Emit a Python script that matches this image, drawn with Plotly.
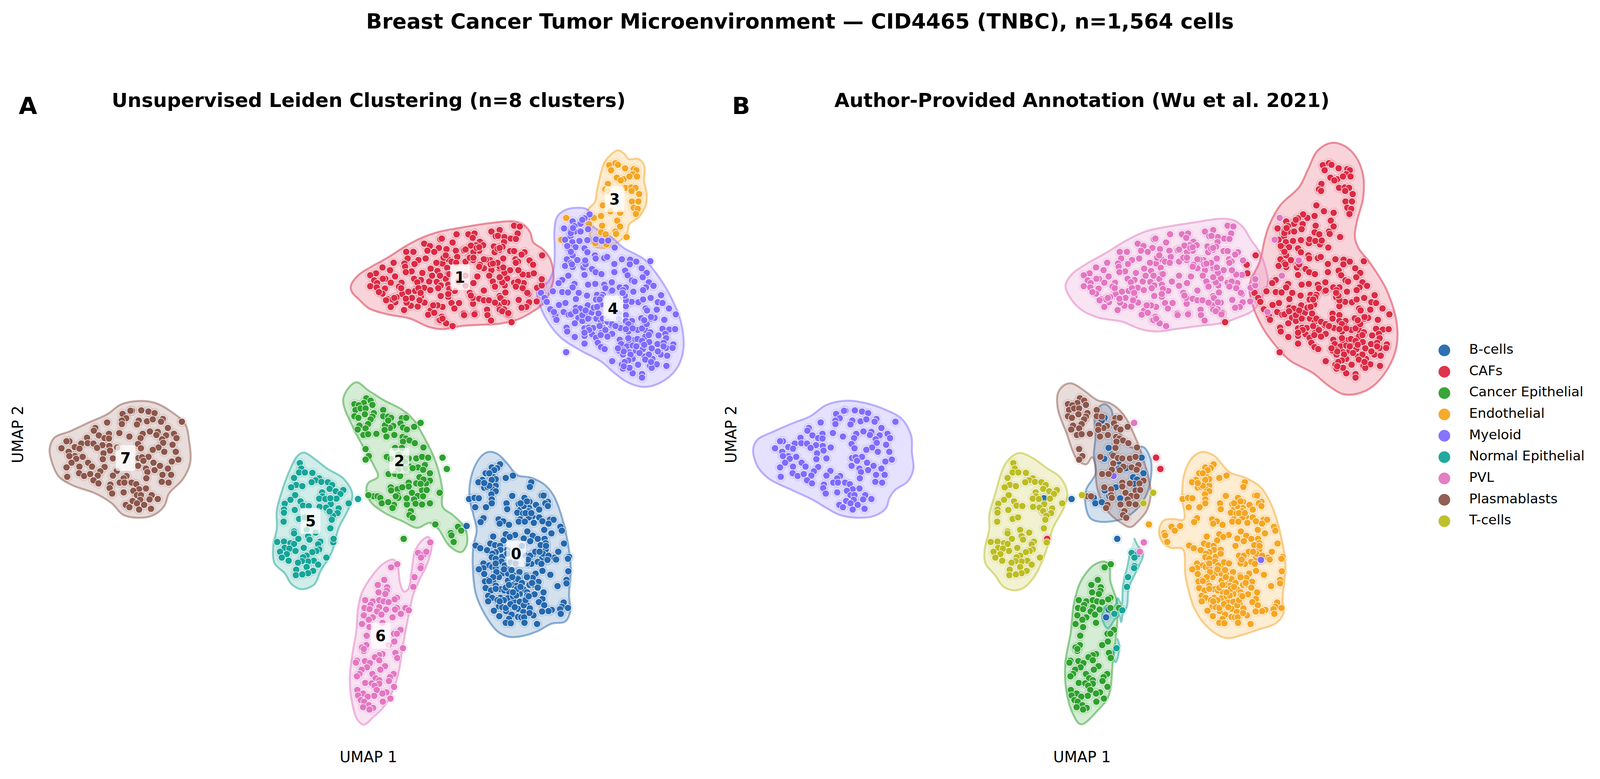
import numpy as np
import plotly.graph_objects as go

FONT = "DejaVu Sans"

# category colours
leiden_colors = {"0": "#2468AE", "1": "#DC2A44", "2": "#2EA12E", "3": "#F5A623",
                 "4": "#7F6BFF", "5": "#17A598", "6": "#E377C2", "7": "#8C564B"}
annotation_names = ["B-cells", "CAFs", "Cancer Epithelial", "Endothelial", "Myeloid",
                    "Normal Epithelial", "PVL", "Plasmablasts", "T-cells"]
annotation_colors = ["#2468AE", "#DC2A44", "#2EA12E", "#F5A623", "#7F6BFF",
                     "#17A598", "#E377C2", "#8C564B", "#BCBD22"]

# UMAP coordinates, one list per (leiden cluster, annotation)
c0_endothelial = [
    (13.91,8.11),(13.68,8.03),(13.83,8.01),(13.75,7.96),(13.51,7.88),(14.27,7.82),(14.07,7.76),(14.78,7.65),(14.74,7.53),
    (13.42,7.71),(13.31,7.65),(13.66,7.67),(13.73,7.78),(13.79,7.68),(13.79,7.56),(13.47,7.51),(13.56,7.53),(13.72,7.46),
    (13.79,7.42),(13.67,7.34),(15.14,7.32),(15.07,7.31),(14.25,7.30),(14.59,7.25),(13.05,7.22),(13.20,7.25),(13.32,7.24),
    (13.68,7.21),(13.68,7.11),(14.73,7.15),(15.24,7.15),(14.09,7.11),(14.43,7.09),(14.51,7.05),(14.91,7.07),(15.17,7.11),
    (15.24,7.04),(13.22,7.01),(13.52,7.01),(14.11,6.96),(14.72,6.99),(15.0,6.95),(14.47,6.94),(14.39,6.87),(14.55,6.85),
    (14.69,6.83),(14.81,6.77),(15.0,6.75),(13.45,6.73),(13.37,6.63),(13.87,6.70),(14.0,6.65),(13.90,6.59),(14.16,6.56),
    (14.47,6.70),(14.43,6.64),(14.71,6.75),(14.60,6.64),(14.85,6.61),(15.09,6.65),(15.30,6.69),(15.40,6.69),(15.26,6.59),
    (12.98,6.53),(15.59,6.51),(15.63,6.41),(15.14,6.43),(14.67,6.39),(15.34,6.34),(14.07,6.32),(14.33,6.30),(14.18,6.25),
    (13.72,6.26),(14.57,6.21),(14.82,6.28),(14.96,6.20),(15.15,6.20),(14.01,6.16),(14.75,6.14),(15.18,6.09),(13.64,6.08),
    (13.23,6.03),(15.69,6.08),(13.36,5.96),(13.77,6.04),(13.91,6.02),(15.04,6.04),(13.55,5.91),(13.92,5.92),(13.79,5.86),
    (13.70,5.82),(15.18,5.92),(15.53,5.87),(14.85,5.82),(14.11,5.92),(13.68,5.73),(13.97,5.74),(15.83,5.74),(15.80,5.69),
    (15.09,5.72),(15.42,5.72),(15.47,5.67),(15.24,5.66),(13.79,5.69),(14.66,5.72),(14.73,5.70),(14.96,5.61),(15.06,5.56),
    (13.45,5.57),(13.95,5.62),(14.78,5.56),(13.61,5.52),(13.45,5.45),(13.32,5.42),(13.69,5.48),(13.79,5.45),(14.11,5.47),
    (15.81,5.37),(15.09,5.38),(14.45,5.35),(13.47,5.30),(13.98,5.32),(14.13,5.31),(14.27,5.28),(14.65,5.26),(14.90,5.31),
    (15.31,5.28),(13.79,5.30),(13.88,5.22),(13.58,5.15),(13.49,5.11),(13.72,5.11),(14.13,5.13),(14.40,5.20),(14.82,5.20),
    (14.98,5.10),(15.76,5.15),(15.76,5.06),(14.24,5.02),(14.39,5.03),(14.73,5.02),(14.84,5.03),(15.51,4.99),(13.51,4.94),
    (13.79,5.0),(13.93,4.91),(14.03,4.88),(13.66,4.88),(14.17,4.83),(14.57,4.90),(14.66,4.83),(14.87,4.78),(14.46,4.79),
    (14.67,4.75),(13.58,4.74),(13.69,4.69),(13.92,4.69),(14.13,4.68),(13.58,4.60),(14.29,4.60),(14.46,4.59),(15.09,4.66),
    (14.99,4.58),(15.68,4.57),(13.90,4.53),(14.18,4.50),(14.65,4.51),(15.14,4.50),(15.63,4.46),(15.80,4.43),(14.74,4.42),
    (13.88,4.47),(14.41,4.41),(13.74,4.36),(15.35,4.38),(15.26,4.35),(15.08,4.34),(14.08,4.35),(15.58,4.40),(14.56,4.33),
    (15.60,4.28),(14.84,4.24),(14.23,4.26),(14.41,4.20),(13.89,4.22),(14.50,4.19),(14.58,4.19),(14.16,4.15),(14.07,4.05),
    (14.21,4.04),(14.59,4.05),(14.94,4.02),
    (14.11,5.82),(14.20,5.60),(14.62,5.77),(14.66,5.57),(14.52,6.02),(14.34,5.57),(14.04,5.52),(14.34,5.17),(14.41,5.17),
    (14.25,5.22),(14.52,5.07),(14.07,4.95),(14.39,4.92),(14.27,4.73),(14.36,4.75),(13.79,4.92),(13.84,4.63),(14.02,4.63),
    (13.97,4.45),(14.07,4.43),(14.20,4.53),(14.32,4.45),(14.57,4.50),(14.62,4.63),(14.71,4.73),(14.73,4.30),(14.96,4.95),
    (15.12,4.83),(15.17,5.77),(15.10,5.82),(15.26,5.77),(14.75,5.77),(14.69,5.67),(14.89,5.87),(14.71,6.91),(14.62,6.86),
    (14.78,6.86),(14.57,7.04),(14.66,7.16),(14.48,7.11),(15.12,7.31),(13.79,7.73),(13.61,7.88),(13.68,7.71),(13.61,7.56),
    (13.47,7.63),(13.79,5.57),(13.81,5.35),(13.72,5.22),(13.61,5.12),(14.02,5.42),(14.23,5.40),(14.16,5.02),(14.48,4.97),
    (14.27,4.83),(13.90,4.60),(14.66,5.22),(14.80,5.07),(15.19,6.02),(15.01,5.87),
]
c0_myeloid = [(15.23,5.66)]

c1_pvl = [
    (14.30,14.22),(14.46,14.20),(14.40,14.02),(13.67,14.07),(13.90,14.11),(14.03,13.93),(13.79,13.95),(13.85,13.96),
    (14.21,13.89),(14.35,13.88),(14.02,13.80),(13.98,13.68),(13.74,13.69),(13.89,13.60),(13.76,13.54),(14.19,13.57),
    (14.30,13.57),(14.59,13.54),(14.51,13.48),(14.73,13.33),(14.34,13.36),(14.41,13.30),(14.00,13.38),(13.63,13.34),
    (13.52,13.35),(12.70,14.00),(13.03,14.00),(13.20,14.02),(13.15,13.91),(13.35,13.81),(13.44,13.72),(13.25,13.72),
    (13.10,13.71),(13.33,13.58),(13.17,13.54),(12.90,13.57),(12.68,13.58),(12.59,13.79),(12.42,13.62),(12.21,13.65),
    (12.25,13.87),(12.29,13.89),(11.80,13.76),(11.96,13.70),(11.89,13.58),(12.08,13.55),(11.50,13.55),(11.30,13.55),
    (11.34,13.38),(11.64,13.34),(11.84,13.38),(10.95,13.27),(11.25,13.25),(11.27,13.17),(11.53,13.24),(10.64,13.15),
    (10.46,13.00),(10.85,13.08),(10.99,12.92),(10.30,12.95),(10.72,12.86),(10.65,12.86),(10.41,12.82),(10.87,12.76),
    (11.17,12.76),(10.49,12.75),(10.30,12.67),(10.48,12.64),(10.71,12.61),(10.64,12.48),(10.54,12.52),(11.10,12.66),
    (11.19,12.47),(11.36,12.53),(11.46,12.37),(11.00,12.26),(10.78,12.34),(10.92,12.33),(10.87,12.14),(11.24,12.06),
    (11.43,12.17),(11.62,12.15),(11.31,12.25),(11.81,12.25),(11.71,12.41),(11.55,12.55),(11.66,12.63),(11.80,12.63),
    (11.97,12.57),(11.71,12.83),(11.94,12.79),(11.52,12.86),(11.75,13.01),(11.45,13.05),(11.29,13.03),(11.98,13.12),
    (12.17,13.06),(12.03,12.95),(12.15,12.78),(12.26,12.69),(12.19,12.62),(12.26,12.42),(12.47,12.40),(12.56,12.24),
    (12.77,12.24),(12.64,12.10),(12.31,12.14),(12.07,12.17),(12.17,12.18),(11.98,12.05),(11.91,11.94),(12.08,11.99),
    (12.29,11.89),(12.21,11.80),(12.41,11.72),(12.59,11.65),(12.90,11.97),(13.21,11.98),(13.55,12.07),(13.56,11.93),
    (13.66,11.79),(14.02,12.08),(13.88,12.18),(14.11,12.25),(14.43,12.32),(14.72,12.26),(14.93,12.28),(14.64,12.14),
    (14.51,12.12),(13.16,12.22),(13.15,12.37),(13.33,12.35),(13.46,12.31),(13.60,12.31),(13.77,12.25),(13.90,12.42),
    (14.06,12.51),(13.46,12.56),(13.78,12.66),(14.04,12.69),(13.71,12.79),(13.95,12.89),(14.11,12.87),(14.57,12.75),
    (14.39,12.78),(14.30,12.76),(14.70,12.47),(14.94,12.63),(15.07,12.69),(15.07,12.85),(14.70,12.96),(14.54,12.97),
    (14.42,13.08),(14.19,13.08),(14.03,13.01),(13.89,13.13),(13.67,13.08),(13.46,13.13),(13.61,12.94),(13.28,12.92),
    (13.17,12.75),(13.35,13.22),(13.16,13.34),(12.95,13.30),(12.72,13.42),(12.47,13.36),(12.31,13.25),(12.14,13.27),
    (12.44,13.14),(12.47,12.99),(12.40,12.86),(12.47,12.71),(12.65,12.55),
    (12.34,13.40),(12.40,13.46),(12.56,13.30),(12.69,13.27),(12.91,13.59),(13.07,13.40),(13.46,13.36),(13.65,13.23),
    (13.90,13.17),(13.84,13.27),(14.35,13.27),(14.00,13.15),(12.50,12.98),(12.95,12.94),(12.75,12.79),(12.95,12.68),
    (12.50,12.60),(12.24,12.94),(12.02,12.94),(11.61,12.77),(11.64,12.62),(11.70,12.50),(11.16,12.62),(11.03,12.39),
    (10.97,12.37),(10.74,12.31),(11.29,12.35),(11.67,12.31),(12.47,12.47),(13.07,12.50),(13.10,12.43),(13.92,12.37),
    (14.03,12.26),(13.90,12.07),(13.97,12.03),(14.13,11.95),(12.91,11.93),(13.20,11.95),(12.24,11.80),(12.31,11.84),
    (12.05,12.18),(14.41,12.79),(14.35,12.66),(14.54,12.62),(14.67,12.50),(13.77,12.66),(13.97,12.77),(13.90,12.90),
    (13.33,13.17),(13.71,13.25),(13.17,13.40),(13.26,13.65),(12.95,13.61),(13.33,13.67),(13.84,13.63),(13.90,13.65),
]
c1_caf = [(15.08,13.46),(14.83,13.22),(14.23,11.75),(14.14,11.98),(14.85,13.00)]

c2_plasmablast = [
    (10.19,9.80),(10.31,9.74),(10.12,9.68),(10.36,9.63),(9.86,9.65),(9.98,9.62),(9.89,9.50),(10.03,9.54),(10.17,9.54),
    (10.40,9.42),(10.15,9.39),(9.86,9.34),(9.97,9.30),(10.36,9.33),(10.31,9.26),(10.0,9.10),(10.24,9.14),(9.95,9.00),
    (10.17,9.03),(10.11,8.86),(10.24,8.88),(10.47,8.89),(10.17,8.50),(10.26,8.32),(10.17,8.23),(10.66,9.50),(10.66,9.34),
    (10.80,9.33),(11.18,9.29),(11.30,9.30),(11.14,9.16),(11.21,9.05),(10.94,9.09),(10.85,9.04),(10.71,9.11),(10.70,8.99),
    (10.75,8.82),(10.97,8.86),(11.32,9.00),(11.52,9.07),(11.20,8.81),(11.29,8.77),(11.39,8.72),(11.21,8.69),(11.54,8.65),
    (11.18,8.53),(11.78,8.54),(10.76,8.30),(11.12,8.33),(11.25,8.27),(11.37,8.26),(11.58,8.26),(11.74,8.30),(11.12,8.13),
    (11.82,8.09),(11.40,8.05),(11.63,8.03),(11.77,7.97),(11.08,7.97),(11.30,7.96),(10.81,7.86),(10.99,7.86),(11.37,7.64),
    (11.58,7.62),(11.96,7.69),(11.85,7.62),(10.87,7.52),(11.37,7.54),(11.74,7.44),(11.87,7.45),(11.06,7.47),(11.06,7.32),
    (11.08,7.25),(11.46,7.38),(11.62,7.30),(11.77,7.29),(11.52,7.21),(11.56,7.10),(11.32,7.08),(11.74,7.08),(10.96,7.07),
    (10.92,6.99),(11.43,6.91),(11.39,6.81),(11.48,6.74),(10.40,7.29),(10.50,7.29),
]
c2_bcell = [
    (10.88,9.30),(10.80,9.23),(10.99,8.53),(11.09,8.36),(10.87,8.25),(11.27,8.18),(11.28,8.00),(11.48,8.01),(11.91,8.28),
    (11.96,7.88),(11.67,7.78),(11.78,7.72),(11.70,7.61),(11.19,7.52),(10.88,7.44),(11.31,7.24),(11.01,7.29),(10.58,7.25),
    (10.62,7.11),(10.80,7.14),(11.23,6.20),
]
c2_caf = [(12.31,8.28),(12.43,7.99)]
c2_tcell = [(10.25,7.32),(12.23,7.38),(11.96,7.11)]
c2_pvl = [(11.70,9.17)]
c2_endothelial = [(12.11,6.57),(12.74,6.51),(12.83,6.41),(12.54,6.35),(12.56,6.29),(12.62,6.12)]
c2_myeloid = [(11.13,7.81)]

c3_caf = [
    (16.95,15.77),(17.12,15.82),(17.19,15.78),(17.39,15.69),(17.00,15.64),(17.63,15.67),(17.70,15.64),(17.16,15.45),
    (17.35,15.41),(17.60,15.54),(17.51,15.48),(17.72,15.48),(17.27,15.38),(16.91,15.29),(17.40,15.19),(17.56,15.20),
    (17.68,15.19),(16.84,15.15),(16.90,15.11),(17.57,15.11),(17.78,15.03),(16.77,14.74),(17.58,14.84),(17.76,14.84),
    (16.98,14.59),(17.25,14.55),(17.63,14.68),(17.74,14.65),(17.69,14.52),(16.52,14.42),(16.72,14.47),(16.39,14.26),
    (16.75,14.22),(17.17,14.35),(17.25,14.20),(17.12,14.07),(17.14,14.01),(16.72,14.05),(16.85,14.00),(17.43,13.93),
    (16.56,13.77),(16.87,13.74),
]
c3_pvl = [(15.75,14.42),(15.61,13.86)]

c4_caf = [
    (16.40,14.51),(16.26,14.41),(15.93,14.33),(16.15,14.27),(15.98,14.21),(15.69,14.15),(16.36,14.13),(15.87,14.07),
    (15.99,14.07),(16.15,14.07),(15.87,13.95),(15.72,13.86),(15.92,13.80),(16.12,13.83),(16.34,13.85),(16.58,13.87),
    (16.74,13.83),(16.92,13.84),(17.10,13.66),(15.84,13.67),(16.01,13.67),(16.26,13.64),(15.85,13.59),(16.34,13.54),
    (15.93,13.46),(16.55,13.46),(16.57,13.38),(16.81,13.39),(16.89,13.42),(15.77,13.36),(16.06,13.34),(17.30,13.36),
    (17.53,13.35),(17.70,13.30),(18.09,13.31),(17.09,13.24),(17.52,13.23),(15.72,13.19),(15.93,13.16),(16.26,13.19),
    (16.23,13.15),(16.47,13.11),(16.57,13.03),(17.39,13.07),(17.85,13.13),(17.09,13.03),(16.73,12.98),(17.99,13.01),
    (16.26,12.96),(17.46,12.95),(17.88,12.90),(17.58,12.82),(15.64,12.83),(15.54,12.75),(15.98,12.73),(16.36,12.71),
    (16.56,12.73),(17.02,12.77),(16.81,12.71),(17.65,12.79),(18.05,12.77),(18.18,12.68),(15.93,12.64),(16.84,12.62),
    (17.24,12.64),(17.41,12.64),(17.97,12.64),(17.89,12.57),(15.05,12.50),(15.38,12.54),(15.64,12.52),(15.80,12.51),
    (17.00,12.54),(17.33,12.57),(17.62,12.53),(16.10,12.50),(16.33,12.43),(16.61,12.45),(16.77,12.45),(18.39,12.44),
    (17.32,12.39),(15.15,12.37),(18.10,12.37),(16.02,12.34),(15.21,12.27),(16.58,12.33),(17.57,12.27),(17.76,12.26),
    (17.89,12.33),(15.73,12.24),(15.55,12.19),(18.30,12.26),(18.43,12.24),(16.71,12.20),(17.41,12.16),(16.02,12.12),
    (16.35,12.18),(16.52,12.14),(18.61,12.10),(15.31,12.08),(16.14,12.10),(17.96,12.10),(18.0,12.05),(18.27,12.07),
    (15.68,12.01),(16.04,11.99),(16.28,11.97),(16.56,12.06),(16.45,11.99),(18.80,11.95),(15.82,11.94),(17.22,11.97),
    (17.41,11.93),(15.45,11.91),(16.09,11.86),(16.39,11.84),(16.59,11.84),(17.84,11.85),(18.11,11.84),(18.21,11.86),
    (18.48,11.81),(15.48,11.81),(16.20,11.78),(16.72,11.76),(17.58,11.78),(17.41,11.78),(17.95,11.70),(15.99,11.72),
    (17.00,11.67),(17.56,11.65),(15.76,11.61),(16.26,11.59),(16.38,11.61),(16.50,11.60),(16.80,11.59),(17.26,11.60),
    (18.43,11.58),(18.62,11.56),(18.78,11.57),(15.78,11.51),(17.48,11.51),(17.74,11.55),(17.95,11.55),(16.72,11.47),
    (16.85,11.48),(18.09,11.49),(16.26,11.40),(16.47,11.44),(17.03,11.45),(16.90,11.38),(18.51,11.45),(15.99,11.37),
    (18.32,11.41),(16.58,11.35),(17.24,11.30),(17.65,11.29),(17.49,11.29),(17.95,11.38),(18.53,11.34),(16.26,11.20),
    (16.63,11.22),(17.28,11.19),(17.80,11.24),(18.06,11.24),(18.29,11.19),(18.73,11.18),(17.44,11.13),(17.60,11.15),
    (16.72,11.11),(18.46,11.22),(16.82,11.06),(17.22,11.02),(17.33,11.04),(17.51,10.98),(17.88,11.06),(18.13,11.08),
    (18.53,11.09),(18.71,11.09),(17.33,10.92),(17.69,11.02),(17.93,10.87),(18.38,10.92),(18.56,10.89),(15.75,10.98),
    (17.60,10.81),(18.15,10.81),(17.03,10.75),(17.44,10.77),(17.30,10.66),(17.75,10.66),(18.08,10.63),(18.27,10.67),
    (18.54,10.63),(17.33,10.56),(17.53,10.59),(18.13,10.58),(17.60,10.44),(17.86,10.42),(17.86,10.33),
    (16.52,12.12),(16.61,12.14),(16.65,11.97),(16.77,11.84),(16.90,11.76),(17.03,11.70),(17.12,11.65),(17.22,11.84),
    (17.48,11.70),(17.60,11.59),(17.41,11.57),(17.86,11.59),(17.99,11.70),(17.92,11.80),(18.11,11.88),(16.68,11.65),
    (16.84,11.55),(16.71,11.42),(16.39,11.55),(16.26,11.48),(17.48,11.34),(17.73,11.32),(17.86,11.27),(18.05,11.42),
    (17.92,11.17),(17.70,11.13),(17.35,11.00),(17.19,11.08),(17.54,10.92),(17.79,10.96),(18.05,10.92),(18.30,11.00),
    (18.46,11.13),(17.95,10.79),(17.48,10.77),(17.38,10.73),(18.11,10.73),(17.51,10.58),(17.35,10.62),(15.88,11.95),
    (16.36,11.84),(16.20,11.93),(16.01,12.03),(16.29,12.05),(16.74,12.39),(16.68,12.33),(17.41,12.31),(17.38,12.43),
    (17.03,12.56),(17.32,12.50),(15.88,14.03),(15.94,14.16),(16.20,14.37),(15.78,13.70),(15.88,13.55),(16.26,13.27),
    (16.29,13.23),(15.88,13.27),(15.91,13.23),
]
c4_pvl = [(16.28,13.33),(15.81,12.94),(15.41,12.01)]

c5_tcell = [
    (8.34,8.14),(8.38,8.00),(8.32,7.90),(8.48,7.90),(8.69,7.89),(8.18,7.76),(8.88,7.75),(8.78,7.70),(8.67,7.65),(8.94,7.66),
    (9.12,7.65),(9.24,7.58),(8.24,7.58),(8.41,7.55),(8.10,7.52),(9.17,7.48),(9.55,7.45),(9.34,7.42),(9.47,7.35),(8.96,7.39),
    (8.21,7.32),(8.97,7.29),(9.36,7.23),(8.08,7.20),(8.88,7.23),(9.05,7.22),(9.70,7.11),(8.36,7.16),(7.92,7.10),(9.20,7.09),
    (8.43,7.05),(8.59,7.04),(8.89,7.02),(9.07,7.00),(7.90,6.95),(8.20,6.94),(9.42,6.98),(9.17,6.91),(7.90,6.87),(9.39,6.86),
    (9.26,6.79),(8.32,6.71),(9.23,6.69),(7.89,6.64),(8.47,6.75),(9.19,6.47),(8.18,6.39),(8.18,6.34),(8.53,6.43),(8.78,6.36),
    (8.57,6.27),(8.30,6.20),(8.61,6.18),(7.71,6.12),(7.90,6.13),(8.08,6.09),(8.18,6.07),(8.91,6.13),(9.27,6.11),(8.85,6.06),
    (8.45,5.97),(7.92,5.97),(8.05,5.95),(8.22,5.89),(7.79,5.87),(8.88,5.93),(8.80,5.89),(8.69,5.86),(7.98,5.81),(8.53,5.77),
    (8.43,5.73),(7.84,5.72),(9.08,5.72),(8.03,5.64),(8.73,5.64),(8.57,5.62),(8.40,5.63),(8.29,5.59),(8.85,5.54),(8.53,5.48),
    (8.24,5.41),(8.71,5.38),(8.57,5.32),(8.23,5.27),(8.41,5.29),
]
c5_bcell = [(9.96,7.22),(9.19,7.24)]
c5_caf = [(9.28,6.20)]
c5_plasmablast = [(9.17,6.90)]

c6_cancer = [
    (11.05,5.55),(10.88,5.47),(10.69,5.15),(10.51,5.02),(10.77,4.96),(10.53,4.83),(10.76,4.87),(10.72,4.79),(11.04,4.69),
    (10.98,4.65),(10.16,4.63),(10.37,4.60),(10.55,4.63),(10.67,4.60),(10.81,4.58),(10.31,4.51),(10.14,4.43),(10.28,4.40),
    (10.55,4.45),(10.74,4.39),(11.28,4.43),(10.49,4.34),(10.12,4.24),(10.61,4.26),(10.37,4.19),(10.07,4.02),(10.28,3.94),
    (10.64,4.05),(10.26,4.13),(11.14,3.87),(10.96,3.77),(11.04,3.77),(10.20,3.72),(10.81,3.48),(10.97,3.57),(10.19,3.48),
    (10.07,3.42),(10.12,3.33),(10.12,3.38),(11.0,3.28),(10.64,3.25),(10.55,3.22),(10.43,3.17),(11.05,3.15),(10.15,3.07),
    (10.55,3.09),(9.93,3.08),(9.90,3.03),(10.29,3.02),(10.21,2.91),(10.71,2.94),(10.06,2.85),(10.58,2.85),(10.95,2.74),
    (10.36,2.74),(10.00,2.74),(9.93,2.68),(10.85,2.66),(10.45,2.63),(10.55,2.58),(10.82,2.56),(10.16,2.51),(10.34,2.50),
    (10.55,2.49),(10.42,2.44),(10.96,2.41),(10.48,2.33),(9.94,2.33),(10.75,2.27),(10.64,2.24),(10.10,2.24),(9.96,2.19),
    (10.41,2.18),(10.23,2.16),(10.04,2.07),(10.86,2.11),(10.13,2.03),(10.65,2.03),(10.26,1.94),(10.10,1.89),(10.38,1.87),
    (10.28,1.83),(11.04,4.43),
]
c6_normal = [(11.63,5.84),(11.80,5.81),(11.71,5.72),(11.71,5.50),(11.70,5.45),(11.53,5.22),(11.50,4.97),(11.37,4.37),(11.15,4.28),(11.21,3.40)]
c6_pvl = [(11.97,6.11),(11.86,5.87)]
c6_bcell = [(10.99,4.39),(10.92,4.19)]

c7_myeloid = [
    (3.67,9.48),(3.63,9.48),(3.93,9.49),(4.13,9.46),(4.30,9.42),(3.41,9.40),(3.51,9.29),(3.39,9.23),(3.39,9.14),(2.98,9.18),
    (3.86,9.23),(3.81,9.13),(4.09,9.21),(4.25,9.26),(4.53,9.27),(4.48,9.20),(5.06,9.20),(2.65,9.04),(2.61,8.97),(4.67,9.04),
    (3.32,8.91),(3.60,8.82),(4.17,8.95),(4.39,8.94),(3.97,8.89),(3.91,8.78),(4.35,8.86),(4.62,8.85),(4.84,8.89),(4.91,8.78),
    (3.03,8.89),(2.75,8.85),(2.91,8.78),(3.03,8.77),(2.42,8.79),(1.93,8.70),(1.85,8.70),(2.26,8.64),(2.44,8.65),(2.60,8.64),
    (2.85,8.60),(3.04,8.58),(2.70,8.53),(4.51,8.75),(4.54,8.66),(4.80,8.61),(3.84,8.63),(4.41,8.54),(3.26,8.54),(1.71,8.52),
    (2.08,8.55),(2.21,8.51),(1.91,8.43),(3.92,8.52),(4.25,8.48),(4.57,8.43),(3.06,8.46),(4.89,8.43),(2.88,8.39),(2.08,8.32),
    (1.93,8.32),(2.30,8.30),(2.12,8.25),(3.14,8.26),(2.86,8.24),(3.85,8.27),(4.13,8.30),(3.95,8.29),(4.96,8.23),(4.78,8.18),
    (3.99,8.20),(1.99,8.15),(2.45,8.15),(4.27,8.15),(1.85,8.03),(2.21,8.05),(2.56,8.05),(2.91,8.04),(3.84,8.07),(4.45,8.07),
    (4.67,8.00),(4.06,8.00),(2.79,7.93),(2.20,7.88),(2.34,7.81),(2.51,7.86),(2.72,7.82),(1.87,7.79),(3.25,7.94),(4.30,7.96),
    (4.10,7.91),(4.52,7.84),(4.76,7.84),(3.14,7.82),(3.52,7.81),(3.44,7.75),(4.07,7.75),(2.60,7.70),(2.74,7.62),(3.33,7.64),
    (3.46,7.64),(3.66,7.64),(3.79,7.60),(4.50,7.66),(4.69,7.64),(3.07,7.59),(3.05,7.50),(4.06,7.49),(3.87,7.47),(3.71,7.43),
    (3.44,7.39),(3.12,7.36),(3.81,7.32),(3.92,7.32),(4.22,7.32),(4.39,7.22),(4.16,7.21),(3.90,7.20),(3.69,7.17),(3.50,7.07),
    (3.60,7.01),(3.81,7.11),(4.01,7.07),(3.87,6.95),(4.20,6.97),
]

# (leiden cluster, annotation, points)
point_groups = [
    ("0", "Endothelial", c0_endothelial), ("0", "Myeloid", c0_myeloid),
    ("1", "PVL", c1_pvl), ("1", "CAFs", c1_caf),
    ("2", "Plasmablasts", c2_plasmablast), ("2", "B-cells", c2_bcell), ("2", "CAFs", c2_caf),
    ("2", "T-cells", c2_tcell), ("2", "PVL", c2_pvl), ("2", "Endothelial", c2_endothelial), ("2", "Myeloid", c2_myeloid),
    ("3", "CAFs", c3_caf), ("3", "PVL", c3_pvl),
    ("4", "CAFs", c4_caf), ("4", "PVL", c4_pvl),
    ("5", "T-cells", c5_tcell), ("5", "B-cells", c5_bcell), ("5", "CAFs", c5_caf), ("5", "Plasmablasts", c5_plasmablast),
    ("6", "Cancer Epithelial", c6_cancer), ("6", "Normal Epithelial", c6_normal), ("6", "PVL", c6_pvl), ("6", "B-cells", c6_bcell),
    ("7", "Myeloid", c7_myeloid),
]

# cluster outlines
outline_c0 = [(13.65,8.43),(13.88,8.35),(14.13,8.11),(14.39,7.83),(14.75,7.77),(15.12,7.61),(15.40,7.31),(15.63,6.76),(15.81,6.02),(15.88,5.42),(15.83,4.78),(15.86,4.33),(15.72,4.08),(15.35,4.03),(14.94,3.83),(14.52,3.71),(14.16,3.69),(13.84,3.83),(13.51,4.23),(13.24,4.78),(13.15,5.52),(13.17,6.02),(13.26,6.42),(13.17,6.81),(13.06,7.26),(13.10,7.76),(13.29,8.20),(13.47,8.38)]
outline_c1 = [(9.76,12.68),(9.95,12.94),(10.33,13.17),(10.78,13.40),(11.29,13.70),(11.73,13.91),(12.24,14.07),(12.88,14.18),(13.58,14.28),(14.29,14.33),(14.60,14.22),(14.76,14.03),(14.83,13.80),(15.11,13.61),(15.31,13.36),(15.40,12.90),(15.31,12.56),(15.11,12.22),(14.80,12.01),(14.41,11.82),(13.90,11.71),(13.33,11.68),(12.82,11.65),(12.31,11.57),(11.92,11.63),(11.41,11.84),(10.78,11.95),(10.27,12.10),(10.01,12.31),(9.79,12.52)]
outline_c2 = [(9.90,10.21),(10.25,10.0),(10.68,9.75),(11.2,9.5),(11.55,9.2),(11.68,9.0),(12.09,8.25),(12.30,7.51),(12.32,7.01),(12.6,6.81),(12.94,6.47),(12.99,6.07),(12.83,5.86),(12.5,6.02),(12.18,6.47),(11.95,6.61),(11.61,6.48),(11.22,6.64),(10.71,6.86),(10.30,7.16),(10.19,7.47),(10.25,7.64),(10.51,7.79),(10.38,8.11),(9.87,8.96),(9.55,9.79)]
outline_c3 = [(17.19,16.15),(17.38,16.05),(17.48,15.93),(17.76,15.93),(17.92,15.76),(17.92,15.34),(17.99,15.04),(17.95,14.71),(17.76,14.43),(17.51,14.26),(17.44,14.03),(17.22,13.82),(16.84,13.65),(16.52,13.70),(16.42,13.91),(16.42,14.20),(16.36,14.62),(16.55,14.83),(16.61,15.13),(16.71,15.55),(16.84,15.88)]
outline_c4 = [(16.07,14.68),(16.36,14.62),(16.46,14.24),(17.03,13.91),(17.35,13.65),(17.92,13.36),(18.24,13.02),(18.62,12.47),(18.94,11.76),(19.01,11.04),(18.81,10.54),(18.37,10.20),(17.92,10.09),(17.48,10.20),(17.09,10.45),(16.71,10.75),(16.20,11.0),(15.62,11.34),(15.24,11.76),(14.99,12.26),(14.95,12.52),(15.27,12.81),(15.40,13.11),(15.43,13.65),(15.42,14.07),(15.50,14.45),(15.72,14.62)]
outline_c5 = [(8.46,8.41),(8.72,8.27),(9.10,8.0),(9.55,7.75),(9.80,7.36),(9.71,7.0),(9.42,6.47),(9.23,5.86),(8.91,5.36),(8.75,5.04),(8.40,4.91),(8.11,5.04),(7.92,5.32),(7.64,5.57),(7.60,6.0),(7.70,6.47),(7.70,6.93),(7.86,7.47),(8.08,8.0),(8.27,8.32)]
outline_c6 = [(11.91,6.25),(12.01,6.07),(11.91,5.62),(11.68,5.17),(11.50,4.78),(11.40,4.38),(11.22,3.53),(11.08,2.74),(10.94,2.34),(10.67,1.89),(10.39,1.64),(10.12,1.44),(9.93,1.59),(9.77,2.14),(9.73,2.64),(9.80,3.23),(9.91,3.83),(9.96,4.43),(10.07,4.83),(10.39,5.30),(10.67,5.57),(10.94,5.67),(11.06,5.52),(11.13,5.07),(11.24,4.85),(11.36,4.92),(11.45,5.37),(11.54,5.87),(11.72,6.14)]
outline_c7 = [(3.84,9.73),(4.32,9.68),(4.76,9.46),(5.15,9.14),(5.26,8.72),(5.29,8.14),(5.08,7.72),(4.70,7.36),(4.57,7.04),(4.25,6.80),(3.87,6.74),(3.42,6.82),(3.11,7.11),(2.66,7.36),(2.02,7.57),(1.64,7.79),(1.45,8.14),(1.38,8.50),(1.51,8.79),(1.96,8.96),(2.47,9.18),(2.98,9.39),(3.36,9.64)]

outline_bcell = [(10.88,9.65),(11.06,9.52),(11.14,9.23),(11.60,8.55),(11.96,8.55),(12.16,8.23),(12.18,7.88),(12.05,7.35),(11.75,6.94),(11.34,6.70),(10.73,6.64),(10.48,6.73),(10.35,7.05),(10.37,7.47),(10.63,7.88),(10.58,8.35),(10.63,8.87),(10.60,9.28),(10.73,9.58)]
outline_caf = [(17.18,16.34),(17.56,16.26),(17.88,15.97),(18.07,15.51),(18.07,14.92),(17.91,14.37),(17.84,13.95),(17.94,13.65),(18.26,13.27),(18.71,12.60),(19.0,11.76),(19.0,11.13),(18.77,10.58),(18.33,10.10),(17.88,9.91),(17.5,9.91),(17.11,10.12),(16.67,10.45),(16.03,10.77),(15.65,11.13),(15.26,11.63),(15.0,12.18),(14.91,12.69),(15.2,13.32),(15.33,13.86),(15.46,14.24),(15.77,14.75),(16.29,15.21),(16.54,15.67),(16.8,16.14)]
outline_cancer = [(10.88,5.62),(11.01,5.53),(11.04,5.12),(11.24,4.53),(11.22,3.94),(11.11,3.06),(10.99,2.18),(10.68,1.80),(10.22,1.45),(9.97,1.77),(9.79,2.48),(9.79,3.06),(9.94,3.83),(10.02,4.53),(10.22,5.12),(10.58,5.53)]
outline_endothelial = [(13.61,8.43),(13.94,8.32),(14.35,7.91),(14.81,7.76),(15.22,7.52),(15.53,7.05),(15.78,6.29),(15.91,5.53),(15.83,4.65),(15.86,4.30),(15.63,4.03),(15.17,3.88),(14.71,3.74),(14.25,3.66),(13.74,3.94),(13.38,4.41),(13.13,5.23),(13.05,5.94),(12.72,5.97),(12.47,6.14),(12.39,6.41),(12.52,6.67),(12.77,6.71),(13.08,6.70),(13.03,7.29),(13.10,7.88),(13.33,8.29)]
outline_myeloid = [(3.71,9.74),(4.22,9.68),(4.80,9.50),(5.24,9.27),(5.50,8.84),(5.52,8.41),(5.56,7.99),(5.40,7.67),(5.05,7.45),(4.89,7.24),(4.80,6.99),(4.48,6.79),(4.03,6.74),(3.52,6.81),(3.14,6.99),(2.76,7.20),(2.18,7.45),(1.54,7.74),(1.22,8.06),(1.10,8.49),(1.22,8.74),(1.67,8.95),(2.25,9.18),(2.69,9.34),(3.14,9.63)]
outline_normal = [(11.70,6.22),(11.80,6.03),(11.95,5.82),(11.75,5.35),(11.55,4.94),(11.50,4.47),(11.39,4.29),(11.34,4.07),(11.28,4.24),(11.19,4.17),(10.96,3.91),(10.81,4.18),(10.91,4.47),(11.16,4.47),(11.24,4.68),(11.35,4.53),(11.39,5.0),(11.52,5.53),(11.60,5.94), None, (11.23,3.65),(11.29,3.45),(11.19,3.04),(11.11,3.19),(11.16,3.47)]
outline_pvl = [(9.79,12.68),(9.97,12.98),(10.35,13.23),(10.93,13.53),(11.44,13.82),(12.01,14.07),(12.65,14.20),(13.41,14.31),(14.12,14.40),(14.50,14.35),(14.75,14.16),(14.95,13.86),(15.20,13.53),(15.39,13.02),(15.42,12.77),(15.26,12.39),(15.01,12.05),(14.63,11.88),(14.12,11.72),(13.48,11.65),(12.84,11.57),(12.33,11.51),(11.88,11.57),(11.37,11.76),(10.73,11.86),(10.29,12.03),(9.97,12.31)]
outline_plasmablast = [(9.97,10.18),(10.32,9.99),(10.68,9.75),(11.04,9.67),(11.39,9.40),(11.70,8.87),(11.96,8.23),(12.16,7.41),(12.06,6.94),(11.80,6.64),(11.60,6.50),(11.29,6.64),(10.99,6.88),(10.68,7.47),(10.60,8.17),(10.53,8.29),(10.37,8.11),(10.12,8.23),(9.81,8.93),(9.58,9.52),(9.58,9.93),(9.76,10.14)]
outline_tcell = [(8.53,8.40),(8.88,8.27),(9.26,8.02),(9.65,7.77),(9.84,7.38),(9.74,6.99),(9.45,6.49),(9.23,5.84),(8.95,5.27),(8.63,4.95),(8.34,4.88),(8.05,4.99),(7.83,5.27),(7.57,5.56),(7.54,5.92),(7.67,6.45),(7.67,6.81),(7.83,7.34),(8.08,8.06),(8.31,8.32)]

leiden_outlines = {"0": outline_c0, "1": outline_c1, "2": outline_c2, "3": outline_c3,
                   "4": outline_c4, "5": outline_c5, "6": outline_c6, "7": outline_c7}
annotation_outlines = {"B-cells": outline_bcell, "CAFs": outline_caf, "Cancer Epithelial": outline_cancer,
                       "Endothelial": outline_endothelial, "Myeloid": outline_myeloid,
                       "Normal Epithelial": outline_normal, "PVL": outline_pvl,
                       "Plasmablasts": outline_plasmablast, "T-cells": outline_tcell}

# where the cluster numbers sit
label_names = ["0", "1", "2", "3", "4", "5", "6", "7"]
label_x = [14.36, 12.80, 11.11, 17.10, 17.06, 8.64, 10.59, 3.49]
label_y = [5.82, 12.90, 8.20, 14.90, 12.10, 6.66, 3.72, 8.27]

# the layout is measured on a 4451 wide picture, the browser page is only 4096 wide
W, H = 4451, 1995
PAGE_W = 4096


def rgba(hex_color, alpha):
    r, g, b = (int(hex_color[i:i + 2], 16) for i in (1, 3, 5))
    return f"rgba({r},{g},{b},{alpha})"


def add_outline(fig, points, color, xaxis, yaxis):
    xs = [None if p is None else p[0] for p in points]
    ys = [None if p is None else p[1] for p in points]
    if None not in points:
        xs.append(xs[0])
        ys.append(ys[0])
    fig.add_trace(go.Scatter(
        x=xs, y=ys, mode="lines", fill="toself", hoverinfo="skip", showlegend=False,
        fillcolor=rgba(color, 0.2),
        line=dict(color=rgba(color, 0.5), width=5, shape="spline", smoothing=1.0),
        xaxis=xaxis, yaxis=yaxis,
    ))


def add_points(fig, points, color, name, xaxis, yaxis):
    arr = np.array(points)
    # pale halo behind each cell
    fig.add_trace(go.Scatter(
        x=arr[:, 0], y=arr[:, 1], mode="markers", hoverinfo="skip", showlegend=False,
        marker=dict(size=27, color=color, opacity=0.13, line=dict(width=0)),
        xaxis=xaxis, yaxis=yaxis,
    ))
    fig.add_trace(go.Scatter(
        x=arr[:, 0], y=arr[:, 1], mode="markers", name=name, showlegend=False,
        marker=dict(size=18, color=color, line=dict(color="white", width=1.3)),
        xaxis=xaxis, yaxis=yaxis,
    ))


fig = go.Figure()

# panel A, leiden clusters
for name in label_names:
    add_outline(fig, leiden_outlines[name], leiden_colors[name], "x", "y")
for name in label_names:
    for cluster, _, points in point_groups:
        if cluster == name:
            add_points(fig, points, leiden_colors[name], name, "x", "y")

# panel B, author annotation
for name, color in zip(annotation_names, annotation_colors):
    add_outline(fig, annotation_outlines[name], color, "x2", "y2")
for name, color in zip(annotation_names, annotation_colors):
    for _, annotation, points in point_groups:
        if annotation == name:
            add_points(fig, points, color, name, "x2", "y2")

# legend column, drawn large so it needs its own small axes
fig.add_trace(go.Scatter(
    x=[0] * len(annotation_names), y=annotation_names, mode="markers", showlegend=False,
    marker=dict(size=30, color=annotation_colors, opacity=0.95), xaxis="x3", yaxis="y3",
))
fig.add_trace(go.Scatter(
    x=[1] * len(annotation_names), y=annotation_names, mode="text", text=annotation_names,
    textposition="middle right", textfont=dict(family=FONT, size=34.5, color="black"),
    showlegend=False, xaxis="x3", yaxis="y3",
))

# white rounded boxes behind the cluster numbers
box_shapes = []
for bx, by in zip(label_x, label_y):
    bw, bh, r = 0.275, 0.33, 0.07
    path = (f"M {bx - bw + r} {by - bh} L {bx + bw - r} {by - bh} Q {bx + bw} {by - bh} {bx + bw} {by - bh + r} "
            f"L {bx + bw} {by + bh - r} Q {bx + bw} {by + bh} {bx + bw - r} {by + bh} "
            f"L {bx - bw + r} {by + bh} Q {bx - bw} {by + bh} {bx - bw} {by + bh - r} "
            f"L {bx - bw} {by - bh + r} Q {bx - bw} {by - bh} {bx - bw + r} {by - bh} Z")
    box_shapes.append(dict(type="path", path=path, xref="x", yref="y", layer="above",
                           fillcolor="rgba(255,255,255,0.72)", line=dict(width=0)))

annotations = []
for name, lx, ly in zip(label_names, label_x, label_y):
    annotations.append(dict(x=lx, y=ly, xref="x", yref="y", text=name, showarrow=False,
                            font=dict(family=FONT, size=38.4, color="black", weight="bold")))
for text, px, py in [("Unsupervised Leiden Clustering (n=8 clusters)", 1025, 257),
                     ("Author-Provided Annotation (Wu et al. 2021)", 3010, 257)]:
    annotations.append(dict(x=px / W, y=1 - py / H, xref="paper", yref="paper", text=text, showarrow=False,
                            xanchor="center", yanchor="middle",
                            font=dict(family=FONT, size=50, color="black", weight="bold")))
for text, px, py in [("A", 78, 270), ("B", 2062, 270)]:
    annotations.append(dict(x=px / W, y=1 - py / H, xref="paper", yref="paper", text=text, showarrow=False,
                            xanchor="center", yanchor="middle",
                            font=dict(family=FONT, size=61, color="black", weight="bold")))

hidden = dict(showgrid=False, zeroline=False, showticklabels=False, ticks="", showline=False)
x_range = [0.80, 19.70]
y_range = [0.75, 17.00]
y_domain = [(H - 1925) / H, (H - 300) / H]
axis_font = dict(family=FONT, size=38.4, color="black")

fig.update_layout(
    width=PAGE_W, height=H, margin=dict(l=0, r=0, t=0, b=0),
    paper_bgcolor="white", plot_bgcolor="white", showlegend=False,
    title=dict(text="Breast Cancer Tumor Microenvironment — CID4465 (TNBC), n=1,564 cells",
               x=0.5, xanchor="center", y=1 - 54 / H, yanchor="middle",
               font=dict(family=FONT, size=53.6, color="black", weight="bold")),
    xaxis=dict(domain=[80 / W, 1970 / W], range=x_range, title=dict(text="UMAP 1", font=axis_font, standoff=0), **hidden),
    yaxis=dict(domain=y_domain, range=y_range, title=dict(text="UMAP 2", font=axis_font, standoff=1), **hidden),
    xaxis2=dict(domain=[2065 / W, 3955 / W], range=x_range, anchor="y2", title=dict(text="UMAP 1", font=axis_font, standoff=0), **hidden),
    yaxis2=dict(domain=y_domain, range=y_range, anchor="x2", title=dict(text="UMAP 2", font=axis_font, standoff=1), **hidden),
    xaxis3=dict(domain=[3990 / W, 4440 / W], range=[-0.406, 6.116], anchor="y3", **hidden),
    yaxis3=dict(domain=[(H - 1362) / H, (H - 870) / H], range=[8.5, -0.5], type="category", anchor="x3", **hidden),
    shapes=box_shapes,
    annotations=annotations,
)

fig.write_html("out.html", config={"displayModeBar": False},
               post_script="document.body.style.margin='0';document.documentElement.style.overflow='hidden';")
